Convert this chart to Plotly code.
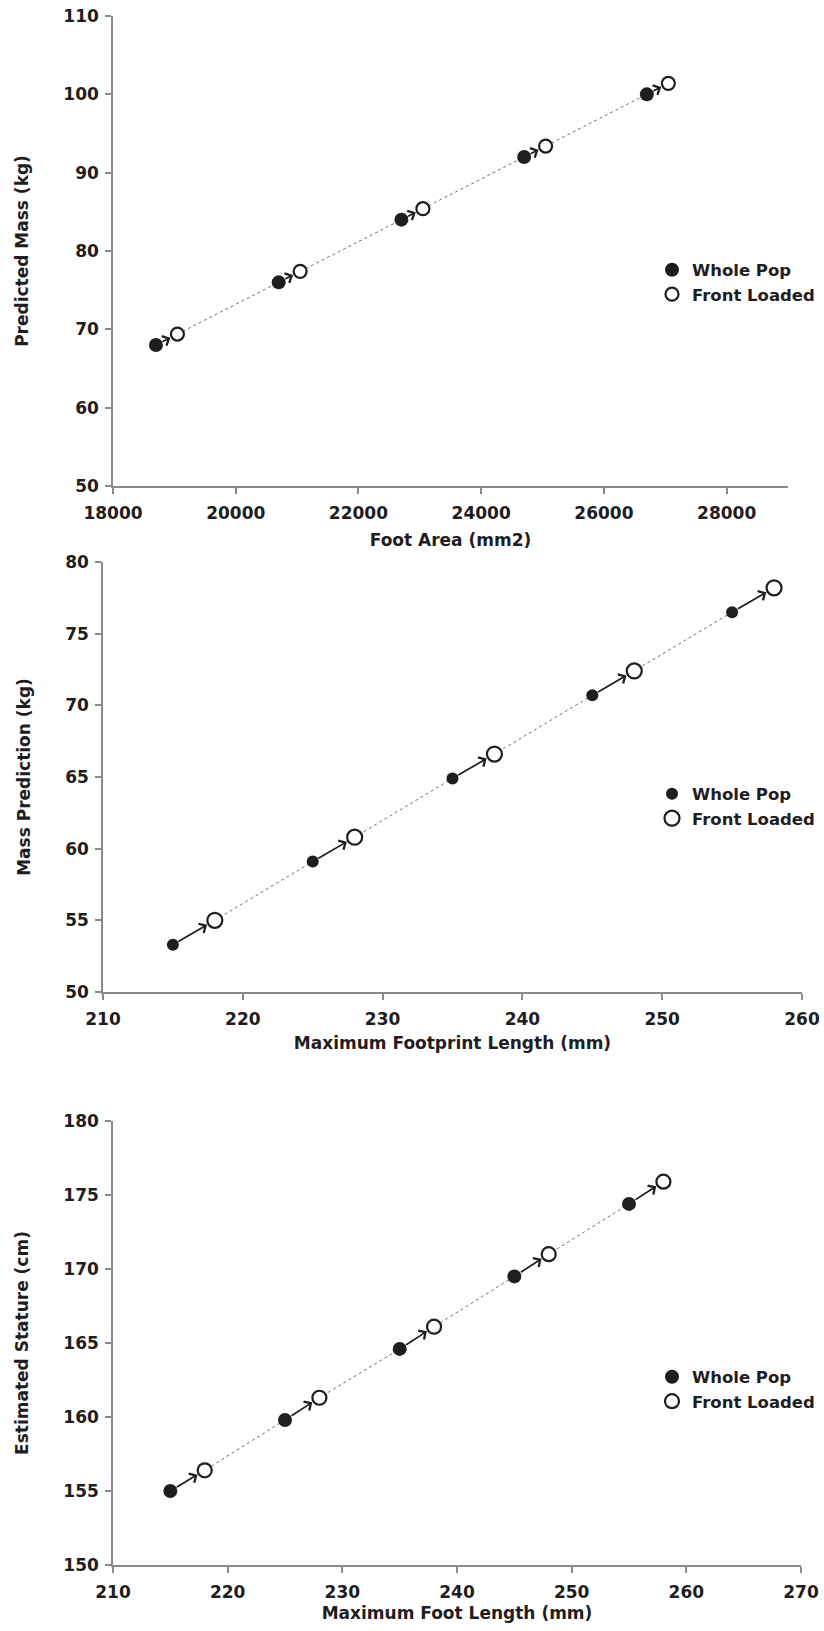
import plotly.graph_objects as go

# ---------------- data ----------------
area_whole = [18700, 20700, 22700, 24700, 26700]
mass_whole = [68.0, 76.0, 84.0, 92.0, 100.0]
area_front = [19050, 21050, 23050, 25050, 27050]
mass_front = [69.4, 77.4, 85.4, 93.4, 101.4]

fpl_whole = [215, 225, 235, 245, 255]
mass2_whole = [53.3, 59.1, 64.9, 70.7, 76.5]
fpl_front = [218, 228, 238, 248, 258]
mass2_front = [55.0, 60.8, 66.6, 72.4, 78.2]

fl_whole = [215, 225, 235, 245, 255]
stat_whole = [155.0, 159.8, 164.6, 169.5, 174.4]
fl_front = [218, 228, 238, 248, 258]
stat_front = [156.4, 161.3, 166.1, 171.0, 175.9]

panels = [
    dict(xw=area_whole, yw=mass_whole, xf=area_front, yf=mass_front,
         xtitle="Foot Area (mm2)", ytitle="Predicted Mass (kg)",
         xrange=[18000, 29000], xdtick=2000, yrange=[50, 110], ydtick=10,
         px=(113, 788), py=(16, 486), ws=14, fs=13, leg_y=282, xts=12),
    dict(xw=fpl_whole, yw=mass2_whole, xf=fpl_front, yf=mass2_front,
         xtitle="Maximum Footprint Length (mm)", ytitle="Mass Prediction (kg)",
         xrange=[210, 260], xdtick=10, yrange=[50, 80], ydtick=5,
         px=(103, 802), py=(562, 992), ws=12, fs=15, leg_y=806, xts=9),
    dict(xw=fl_whole, yw=stat_whole, xf=fl_front, yf=stat_front,
         xtitle="Maximum Foot Length (mm)", ytitle="Estimated Stature (cm)",
         xrange=[210, 270], xdtick=10, yrange=[150, 180], ydtick=5,
         px=(113, 801), py=(1121, 1565), ws=14, fs=14, leg_y=1389, xts=6),
]

W, H = 824, 1631
DARK = "#1f1d1e"
AXIS = "#8a8a8a"
FONT = "DejaVu Sans"

fig = go.Figure()
layout = dict(width=W, height=H, margin=dict(l=0, r=0, t=0, b=0, autoexpand=False),
              paper_bgcolor="white", plot_bgcolor="white",
              font=dict(family=FONT, color=DARK), showlegend=True)
annotations = []

for i, p in enumerate(panels, start=1):
    xa = "x" if i == 1 else f"x{i}"
    ya = "y" if i == 1 else f"y{i}"
    leg = "legend" if i == 1 else f"legend{i}"
    # dotted trend line through all points
    pts = sorted(list(zip(p["xw"], p["yw"])) + list(zip(p["xf"], p["yf"])))
    fig.add_trace(go.Scatter(x=[a for a, b in pts], y=[b for a, b in pts], mode="lines",
                             line=dict(color="#707070", width=1, dash="dot"),
                             showlegend=False, hoverinfo="skip", xaxis=xa, yaxis=ya))
    fig.add_trace(go.Scatter(x=p["xw"], y=p["yw"], mode="markers", name="Whole Pop",
                             marker=dict(size=p["ws"], color=DARK, line=dict(width=0)),
                             xaxis=xa, yaxis=ya, legend=leg))
    fig.add_trace(go.Scatter(x=p["xf"], y=p["yf"], mode="markers", name="Front Loaded",
                             marker=dict(size=p["fs"], color="white", line=dict(width=2.2, color=DARK)),
                             xaxis=xa, yaxis=ya, legend=leg))
    for xw, yw, xf, yf in zip(p["xw"], p["yw"], p["xf"], p["yf"]):
        annotations.append(dict(x=xf, y=yf, ax=xw, ay=yw, xref=xa, yref=ya, axref=xa, ayref=ya,
                                text="", showarrow=True, arrowhead=4, arrowsize=1.2, arrowwidth=1.7,
                                arrowcolor=DARK, standoff=p["fs"] / 2 + 1.5,
                                startstandoff=p["ws"] / 2 - 1))
    xkey = "xaxis" if i == 1 else f"xaxis{i}"
    ykey = "yaxis" if i == 1 else f"yaxis{i}"
    layout[xkey] = dict(domain=[p["px"][0] / W, p["px"][1] / W], anchor=ya, range=p["xrange"],
                        dtick=p["xdtick"], tick0=p["xrange"][0], tickformat="d",
                        showgrid=False, zeroline=False, automargin=False,
                        showline=True, linecolor=AXIS, linewidth=1.5, ticks="outside",
                        ticklen=6, tickcolor=AXIS, tickwidth=1.5, ticklabelstandoff=5,
                        tickfont=dict(family=FONT, size=17, color=DARK, weight="bold"),
                        title=dict(text=p["xtitle"], standoff=p["xts"],
                                   font=dict(family=FONT, size=17, color=DARK, weight="bold")))
    layout[ykey] = dict(domain=[1 - p["py"][1] / H, 1 - p["py"][0] / H], anchor=xa, range=p["yrange"],
                        dtick=p["ydtick"], tick0=p["yrange"][0], tickformat="d",
                        showgrid=False, zeroline=False, automargin=False,
                        showline=True, linecolor=AXIS, linewidth=1.5, ticks="outside",
                        ticklen=6, tickcolor=AXIS, tickwidth=1.5, ticklabelstandoff=3,
                        tickfont=dict(family=FONT, size=17, color=DARK, weight="bold"),
                        title=dict(text=p["ytitle"], standoff=30,
                                   font=dict(family=FONT, size=17, color=DARK, weight="bold")))
    layout[leg] = dict(x=652 / W, xanchor="left", y=1 - p["leg_y"] / H, yanchor="middle",
                       bgcolor="rgba(0,0,0,0)", borderwidth=0, tracegroupgap=0,
                       font=dict(family=FONT, size=16.5, color=DARK, weight="bold"))

layout["annotations"] = annotations
fig.update_layout(**layout)
fig.write_html("out.html")
